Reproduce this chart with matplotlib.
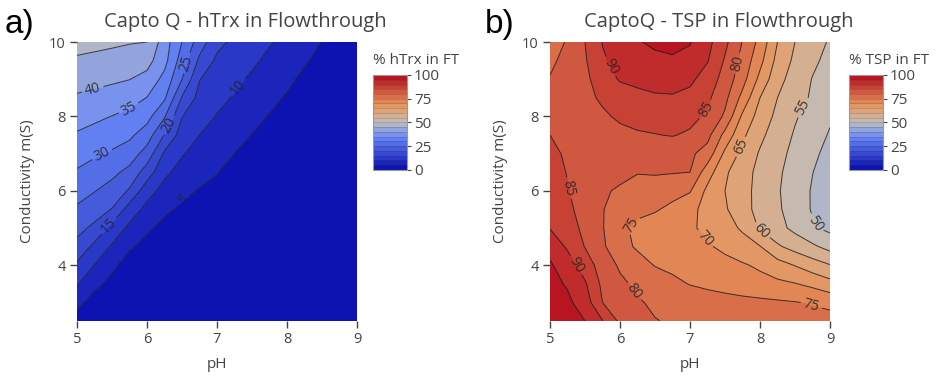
import numpy as np
import matplotlib.pyplot as plt
from matplotlib.colors import LinearSegmentedColormap

plt.rcParams['font.family'] = ['Open Sans', 'DejaVu Sans']

# conductivity rows (mS), shared by both panels
cond = [2.5, 3.0, 3.5, 4.0, 4.5, 5.0, 5.5, 6.0, 6.5, 7.0, 7.5, 8.0, 8.5, 9.0, 9.5, 10.0]

# pH columns, shared by both panels
ph = [5.0, 5.25, 5.5, 5.75, 6.0, 6.25, 6.5, 6.75, 7.0,
      7.25, 7.5, 7.75, 8.0, 8.25, 8.5, 8.75, 9.0]

# panel a: % hTrx in flowthrough
htrx = [
    [2.5, 1.6, 1.0, 0.5, 0.5, 0.5, 0.5, 0.5, 0.5, 0.5, 0.5, 0.5, 0.5, 0.5, 0.5, 0.5, 0.5],
    [6.5, 2.9, 2.0, 0.6, 0.5, 0.5, 0.5, 0.5, 0.5, 0.5, 0.5, 0.5, 0.5, 0.5, 0.5, 0.5, 0.5],
    [10.4, 6.4, 3.5, 1.0, 0.6, 0.5, 0.5, 0.5, 0.5, 0.5, 0.5, 0.5, 0.5, 0.5, 0.5, 0.5, 0.5],
    [14.2, 9.9, 6.3, 2.5, 0.8, 0.5, 0.5, 0.5, 0.5, 0.5, 0.5, 0.5, 0.5, 0.5, 0.5, 0.5, 0.5],
    [18.4, 13.8, 9.4, 5.85, 3.2, 1.0, 0.8, 0.5, 0.5, 0.5, 0.5, 0.5, 0.5, 0.5, 0.5, 0.5, 0.5],
    [21.6, 18.9, 13.3, 8.9, 5.9, 3.6, 2.1, 0.8, 0.8, 0.5, 0.5, 0.5, 0.5, 0.5, 0.5, 0.5, 0.5],
    [24.3, 22.3, 19.8, 12.7, 8.6, 6.0, 4.1, 2.6, 2.2, 0.8, 0.6, 0.5, 0.5, 0.5, 0.5, 0.5, 0.5],
    [26.9, 25.2, 23.1, 19.4, 11.9, 8.4, 6.2, 4.7, 3.7, 2.0, 1.0, 0.5, 0.5, 0.5, 0.5, 0.5, 0.5],
    [29.5, 27.9, 26.2, 23.6, 17.6, 11.0, 8.3, 6.5, 5.2, 3.5, 1.8, 0.8, 0.6, 0.5, 0.5, 0.5, 0.5],
    [32.0, 30.7, 29.4, 27.5, 23.0, 14.2, 10.4, 8.25, 6.7, 5.0, 3.4, 1.8, 1.0, 0.5, 0.5, 0.5, 0.5],
    [34.5, 33.4, 32.2, 31.0, 27.5, 19.75, 12.7, 10.0, 8.2, 6.6, 4.9, 3.4, 2.0, 0.8, 0.6, 0.5, 0.5],
    [37.0, 36.0, 34.9, 33.7, 31.7, 25.5, 15.2, 11.7, 9.8, 8.1, 6.4, 4.8, 3.3, 1.8, 1.0, 0.8, 0.5],
    [39.4, 38.75, 37.9, 36.8, 34.9, 30.7, 19.6, 13.4, 11.2, 9.6, 7.9, 6.2, 4.6, 2.9, 1.8, 1.4, 1.0],
    [41.9, 41.35, 40.8, 40.1, 38.4, 33.5, 25.1, 15.2, 12.6, 11.05, 9.3, 7.6, 6.0, 4.0, 2.8, 2.2, 1.6],
    [44.3, 43.85, 43.4, 42.8, 41.8, 36.6, 27.6, 19.0, 14.0, 12.4, 10.8, 9.0, 7.3, 5.5, 3.8, 3.0, 2.2],
    [46.8, 46.3, 45.8, 45.3, 45.0, 37.4, 30.0, 22.5, 16.5, 13.8, 12.1, 10.4, 8.7, 6.9, 4.9, 4.0, 3.0],
]

# panel b: % TSP in flowthrough
tsp = [
    [99.0, 97.0, 95.0, 90.2, 84.0, 82.0, 80.2, 79.5, 79.0, 78.5, 78.0, 77.8, 77.6, 77.5, 77.3, 77.1, 77.0],
    [97.5, 96.0, 92.6, 85.0, 82.9, 80.5, 79.2, 78.5, 77.8, 77.2, 76.7, 76.3, 76.0, 75.6, 75.2, 74.5, 73.6],
    [96.5, 94.5, 90.6, 83.9, 81.0, 79.0, 77.6, 76.1, 74.8, 74.0, 73.3, 72.5, 71.7, 71.0, 70.2, 68.8, 66.7],
    [95.6, 92.4, 87.5, 82.8, 79.3, 76.9, 74.8, 73.9, 73.1, 72.2, 71.4, 70.5, 69.2, 67.0, 64.8, 62.3, 60.2],
    [93.3, 89.3, 84.8, 80.8, 76.6, 74.4, 73.4, 72.4, 71.5, 70.5, 69.0, 67.1, 65.2, 60.7, 58.1, 55.9, 53.3],
    [89.8, 87.0, 83.9, 80.3, 75.9, 74.1, 73.0, 71.8, 70.7, 68.9, 66.9, 64.3, 59.4, 56.6, 53.7, 50.6, 48.8],
    [88.8, 86.0, 83.2, 80.3, 77.0, 76.0, 75.4, 74.0, 71.3, 68.4, 65.6, 61.8, 58.4, 55.8, 52.6, 49.6, 47.5],
    [87.9, 85.2, 83.2, 81.2, 78.8, 77.5, 77.5, 76.4, 75.4, 68.8, 65.0, 61.6, 58.5, 55.5, 52.4, 49.6, 47.0],
    [86.9, 84.8, 84.0, 83.2, 82.5, 80.3, 80.5, 80.3, 80.0, 72.3, 65.8, 61.9, 58.7, 55.8, 53.0, 50.1, 47.6],
    [86.0, 84.4, 83.6, 82.8, 82.0, 81.7, 81.5, 81.2, 80.9, 78.0, 68.9, 63.6, 59.5, 56.5, 53.7, 51.0, 48.5],
    [85.0, 84.2, 83.8, 83.8, 84.0, 84.4, 84.8, 85.3, 84.2, 81.5, 73.5, 66.0, 61.1, 57.6, 54.5, 51.9, 49.6],
    [83.4, 83.2, 83.5, 84.4, 85.6, 86.8, 87.5, 87.5, 86.6, 84.1, 79.2, 69.1, 62.9, 58.8, 55.5, 53.0, 50.6],
    [81.9, 82.8, 84.0, 85.6, 87.0, 88.3, 89.3, 89.5, 88.6, 86.0, 81.3, 73.5, 65.0, 60.0, 56.8, 54.4, 51.4],
    [80.3, 82.0, 84.0, 87.3, 90.5, 91.5, 92.0, 92.0, 91.0, 87.8, 83.1, 76.9, 68.6, 61.6, 57.9, 54.8, 52.2],
    [78.9, 81.7, 84.5, 89.4, 91.5, 92.7, 93.7, 94.3, 93.6, 90.3, 84.5, 78.4, 71.5, 63.4, 59.0, 56.0, 53.5],
    [77.5, 80.5, 85.0, 90.2, 92.4, 94.6, 96.0, 96.5, 95.3, 91.5, 86.2, 79.8, 73.5, 65.0, 60.0, 57.0, 54.5],
]

# where the contour labels sit (pH, conductivity)
labels_a = [(5.23, 8.71), (5.74, 8.22), (5.35, 7.0), (6.57, 9.43), (6.31, 7.77),
            (5.43, 5.1), (7.31, 8.76), (6.5, 5.75)]
labels_b = [(5.85, 9.33), (7.69, 9.42), (7.24, 8.17), (8.59, 8.26), (7.72, 7.19),
            (5.26, 6.07), (6.11, 5.18), (7.2, 4.69), (7.98, 4.82), (8.71, 5.04),
            (5.43, 4.06), (6.18, 3.26), (8.73, 2.9)]

# plotly's classic RdBu scale (blue = low)
cmap = LinearSegmentedColormap.from_list("rdbu_plotly", [
    (0.0, (5/255, 10/255, 172/255)),
    (0.35, (106/255, 137/255, 247/255)),
    (0.5, (190/255, 190/255, 190/255)),
    (0.6, (220/255, 170/255, 132/255)),
    (0.7, (230/255, 145/255, 90/255)),
    (1.0, (178/255, 10/255, 28/255)),
])

fill_levels = np.arange(0, 105, 5)
grey = '#444444'

W, H = 943, 377
fig = plt.figure(figsize=(W / 100, H / 100), dpi=100)


def panel(x0, z, line_levels, label_pos, title, title_x, letter, letter_x, cb_x, cb_title):
    ax = fig.add_axes([x0 / W, 1 - 321 / H, 280 / W, 279 / H])
    X, Y = np.meshgrid(ph, cond)
    Z = np.array(z)
    cf = ax.contourf(X, Y, Z, levels=fill_levels, cmap=cmap, vmin=0, vmax=100)
    cs = ax.contour(X, Y, Z, levels=line_levels, colors='#222222', linewidths=0.7, alpha=0.85)
    ax.clabel(cs, fmt='%d', fontsize=10, colors='#222222', inline=True,
              inline_spacing=3, manual=label_pos)
    ax.set_xlim(5, 9)
    ax.set_ylim(2.5, 10)
    ax.set_xticks([5, 6, 7, 8, 9])
    ax.set_yticks([4, 6, 8, 10])
    for s in ax.spines.values():
        s.set_visible(False)
    ax.tick_params(direction='out', length=5, width=1, color=grey, labelcolor=grey,
                   labelsize=10.5, pad=3)
    ax.set_xlabel('pH', fontsize=11, color=grey)
    ax.xaxis.set_label_coords(0.5, -0.13)
    ax.set_ylabel('Conductivity m(S)', fontsize=11, color=grey)
    ax.yaxis.set_label_coords(-0.15, 0.5)
    fig.text(title_x / W, 1 - 22 / H, title, fontsize=14.5, color=grey,
             ha='center', va='center')
    fig.text(letter_x / W, 1 - 25 / H, letter, fontsize=24, color='black',
             ha='left', va='center', family='Liberation Sans')

    cax = fig.add_axes([cb_x / W, 1 - 170 / H, 34 / W, 95 / H])
    cb = fig.colorbar(cf, cax=cax, ticks=[0, 25, 50, 75, 100])
    cb.outline.set_edgecolor('#999999')
    cb.outline.set_linewidth(0.8)
    for lv in fill_levels[1:-1]:
        cax.axhline(lv, color='#333333', lw=0.4, alpha=0.35)
    cax.tick_params(length=3, width=0.8, color=grey, labelcolor=grey, labelsize=11, pad=2)
    fig.text(cb_x / W, 1 - 61 / H, cb_title, fontsize=11, color=grey,
             ha='left', va='center')
    return ax


panel(77, htrx, np.arange(5, 50, 5), labels_a,
      'Capto Q - hTrx in Flowthrough', 245, 'a)', 5, 373, '% hTrx in FT')
panel(550, tsp, np.arange(50, 100, 5), labels_b,
      'CaptoQ - TSP in Flowthrough', 719, 'b)', 485, 849, '% TSP in FT')

fig.savefig('out.png', dpi=100)
